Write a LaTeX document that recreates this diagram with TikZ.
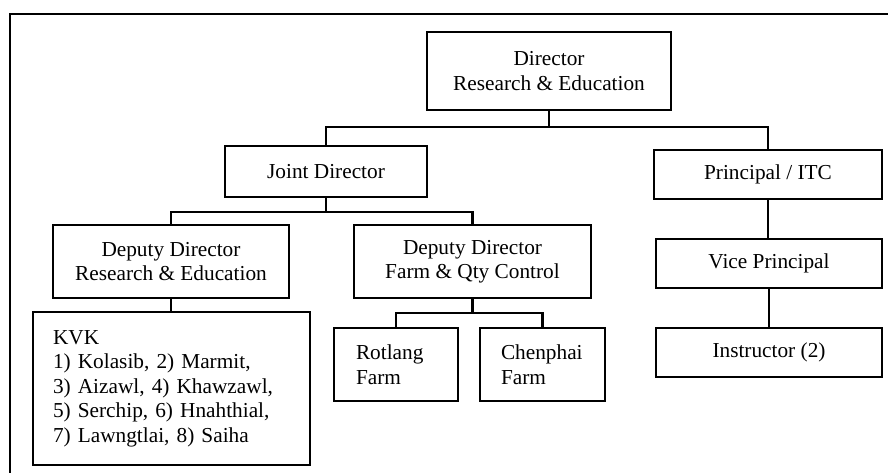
\documentclass[tikz,border=0pt]{standalone}
\usepackage{fontspec}
\setmainfont{Liberation Serif}
\begin{document}
\begin{tikzpicture}[x=1pt, y=-1pt,
  box/.style={draw, line width=1.8pt, inner sep=0pt, align=center,
    font=\fontsize{21.3}{24.5}\selectfont},
  leftbox/.style={box, align=left},
  link/.style={line width=2.4pt}]
\useasboundingbox (0,0) rectangle (888,472);

% outer frame (only top and left edges fall inside the page)
\draw[line width=1.4pt] (892,14) -- (10,14) -- (10,476);

% boxes
\node[box, minimum width=244pt, minimum height=78pt] (dir) at (549,71)
  {Director\\Research \& Education};
\node[box, minimum width=202pt, minimum height=51pt] (joint) at (326,171.5)
  {Joint Director};
\node[box, minimum width=228pt, minimum height=49pt] (prin) at (768,174.5)
  {Principal / ITC};
\node[box, minimum width=236pt, minimum height=73pt] (ddre) at (171,261.5)
  {Deputy Director\\Research \& Education};
\node[box, minimum width=237pt, minimum height=73pt] (ddfq) at (472.5,261.5)
  {Deputy Director\\Farm \& Qty Control};
\node[box, minimum width=226pt, minimum height=49pt] (vice) at (769,263.5)
  {Vice Principal};
\node[box, minimum width=226pt, minimum height=49pt] (instr) at (769,352.5)
  {Instructor (2)};
\node[leftbox, text width=237pt, inner xsep=20pt, minimum height=153pt] (kvk) at (171.5,388.5)
  {KVK\\1) Kolasib, 2) Marmit,\\3) Aizawl, 4) Khawzawl,\\5) Serchip, 6) Hnahthial,\\7) Lawngtlai, 8) Saiha};
\node[leftbox, text width=80pt, inner xsep=22pt, minimum height=73pt] (rot) at (396,364.5)
  {Rotlang\\Farm};
\node[leftbox, text width=83pt, inner xsep=21pt, minimum height=73pt] (chen) at (542.5,364.5)
  {Chenphai\\Farm};

% connectors
\draw[link] (dir.south) -- ++(0,16) coordinate (b1);
\draw[link] (joint.north) |- (b1) -| (prin.north);

\draw[link] (joint.south) -- ++(0,14) coordinate (b2);
\draw[link] (ddre.north) |- (b2) -| (ddfq.north);

\draw[link] (ddre.south) -- (ddre.south |- kvk.north);

\draw[link] (ddfq.south) -- ++(0,14) coordinate (b3);
\draw[link] (rot.north) |- (b3) -| (chen.north);

\draw[link] (prin.south) -- (prin.south |- vice.north);
\draw[link] (vice.south) -- (vice.south |- instr.north);
\end{tikzpicture}
\end{document}
